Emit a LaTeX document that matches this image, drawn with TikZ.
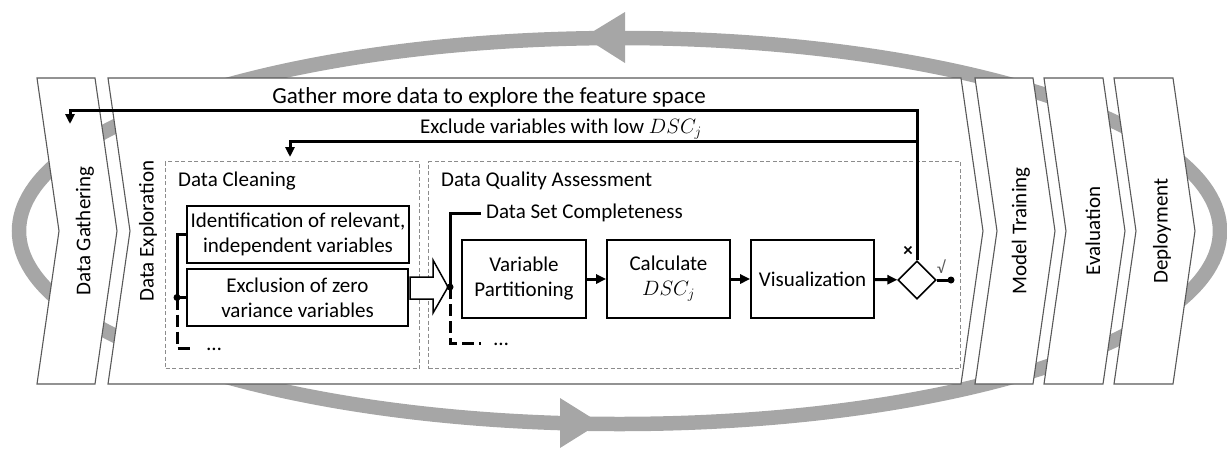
\documentclass[tikz,border=0pt]{standalone}
\usepackage{fontspec}
\setmainfont{Carlito}
\usetikzlibrary{shapes.geometric,arrows.meta}
\definecolor{ringgray}{HTML}{A6A6A6}
\definecolor{chevgray}{HTML}{595959}
\definecolor{dashgray}{HTML}{8C8C8C}
\begin{document}
\begin{tikzpicture}[x=1pt,y=-1pt,
  every node/.style={font=\fontsize{21}{25}\selectfont},
  chevron/.style={draw=chevgray, line width=1.1pt, fill=white, line join=miter},
  chevlabel/.style={rotate=90, inner sep=0},
  proc/.style={draw=black, line width=1.6pt, fill=white, align=center, inner sep=0},
  group/.style={draw=dashgray, line width=1pt, dash pattern=on 4pt off 2.5pt, inner sep=0},
  flow/.style={line width=3pt, line join=miter, -{Triangle[length=10pt,width=9pt]}},
  bracket/.style={line width=3pt, line join=miter},
  dbracket/.style={line width=3pt, dash pattern=on 12pt off 5pt},
  dot/.style={circle, fill=black, inner sep=0, minimum size=7pt},
  plain/.style={inner sep=0},
]
\useasboundingbox (0,0) rectangle (1227,448);
% cycle ring
\draw[ringgray, line width=14.5pt] (619.5,231) ellipse [x radius=600.5, y radius=193];
\fill[ringgray] (584,37) -- (625,12) -- (625,63) -- cycle;
\fill[ringgray] (600,423) -- (560,398) -- (560,448) -- cycle;
% chevrons
\draw[chevron] (37,78) -- (95,78) -- (117,231) -- (95,384) -- (37,384) -- (59,231) -- cycle;
\draw[chevron] (108,78) -- (961,78) -- (983,231) -- (961,384) -- (108,384) -- (130,231) -- cycle;
\draw[chevron] (975,78) -- (1033,78) -- (1055,231) -- (1033,384) -- (975,384) -- (997,231) -- cycle;
\draw[chevron] (1044,78) -- (1103,78) -- (1125,231) -- (1103,384) -- (1044,384) -- (1066,231) -- cycle;
\draw[chevron] (1114,78) -- (1173,78) -- (1195,231) -- (1173,384) -- (1114,384) -- (1136,231) -- cycle;
\node[chevlabel] (lgather) at (85,231) {Data Gathering};
\node[chevlabel] (lexplore) at (148,231) {Data Exploration};
\node[chevlabel] (ltrain) at (1021,231) {Model Training};
\node[chevlabel] (leval) at (1093,231) {Evaluation};
\node[chevlabel] (ldeploy) at (1162,231) {Deployment};
% groups
\node[group, minimum width=254pt, minimum height=207pt, anchor=north west] (dc) at (165,161) {};
\node[group, minimum width=532pt, minimum height=207pt, anchor=north west] (dqa) at (428,161) {};
\node[plain, anchor=west] (dctitle) at (178,181) {Data Cleaning};
\node[plain, anchor=west] (dqatitle) at (441,181) {Data Quality Assessment};
% process boxes
\node[proc, minimum width=222pt, minimum height=57pt] (ident) at (298,234.5) {Identification of relevant,\\independent variables};
\node[proc, minimum width=221pt, minimum height=57pt] (excl) at (297.5,297.5) {Exclusion of zero\\variance variables};
\node[proc, minimum width=124pt, minimum height=78pt] (vp) at (524,279) {Variable\\Partitioning};
\node[proc, minimum width=123pt, minimum height=78pt] (calc) at (668.5,279) {Calculate\\$DSC_j$};
\node[proc, minimum width=123pt, minimum height=78pt] (vis) at (812.5,279) {Visualization};
\node[draw, diamond, aspect=1, line width=1.6pt, minimum size=38pt, inner sep=0, fill=white] (dec) at (917,280) {};
\node[dot] (enddot) at (951,280) {};
% flow
\draw[flow] (vp) -- (calc);
\draw[flow] (calc) -- (vis);
\draw[flow] (vis) -- (dec);
\draw[line width=3pt] (dec.east) -- (enddot.center);
\node[plain, font=\fontsize{17}{18}\selectfont, text=chevgray] (ok) at (941,267) {√};
\node[plain, font=\bfseries\fontsize{19}{20}\selectfont] (no) at (908,251) {×};
% feedback loops
\coordinate (gtop) at (917,110);
\coordinate (gleft) at (70,110);
\coordinate (gend) at (70,124);
\draw[flow] (dec.north) -- (gtop) -- (gleft) -- (gend);
\coordinate (xr) at (917,141);
\coordinate (xl) at (290,141);
\coordinate (xend) at (290,157);
\draw[flow] (xr) -- (xl) -- (xend);
\node[plain, font=\fontsize{23}{26}\selectfont] (gathertxt) at (489,97) {Gather more data to explore the feature space};
\node[plain] (excltxt) at (561,129) {Exclude variables with low $DSC_j$};
% hollow block arrow
\draw[line width=1.5pt, fill=white, line join=miter] (410,277) -- (433,277) -- (433,260) -- (448,287) -- (433,313) -- (433,299) -- (410,299) -- cycle;
% data cleaning bracket
\coordinate (b1top) at (177,234.5);
\node[dot] (b1dot) at (177,297.5) {};
\coordinate (b1bot) at (177,348);
\coordinate (b1end) at (194,348);
\draw[bracket] (ident.west) -- (b1top) -- (b1dot.center) -- (excl.west);
\draw[dbracket] (b1dot.center) -- (b1bot) -- (b1end);
\node[plain] (b1more) at (214,349) {\dots};
% completeness bracket
\coordinate (b2top) at (450,213);
\coordinate (b2topend) at (481,213);
\node[dot] (b2dot) at (450,287) {};
\coordinate (b2bot) at (450,343);
\coordinate (b2end) at (481,343);
\draw[bracket] (b2topend) -- (b2top) -- (b2dot.center);
\draw[dbracket] (b2dot.center) -- (b2bot) -- (b2end);
\node[plain, anchor=west] (dsc) at (486,213) {Data Set Completeness};
\node[plain] (b2more) at (501,344) {\dots};
\end{tikzpicture}
\end{document}
